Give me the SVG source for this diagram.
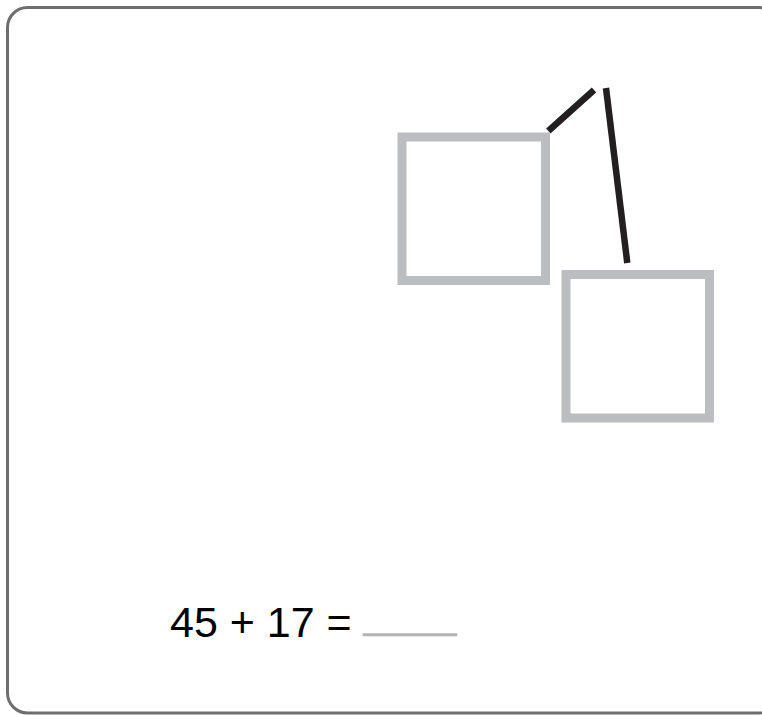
<svg xmlns="http://www.w3.org/2000/svg" width="762" height="715" viewBox="0 0 762 715">
<style>
.frame{fill:#fff;stroke:#6d6e70;stroke-width:3}
.box{fill:none;stroke:#bcbdc0;stroke-width:9}
.link{stroke:#231f20;stroke-width:6.5;fill:none}
.eq{font-family:"Liberation Sans",Arial,sans-serif;font-size:43px;fill:#000}
.blank{stroke:#b3b3b3;stroke-width:3}
</style>
<rect width="762" height="715" fill="#fff"/>
<rect class="frame" x="7.5" y="7.5" width="772" height="705.5" rx="20" ry="20"/>
<g id="connectors">
<line class="link" x1="548.3" y1="131" x2="594" y2="90"/>
<line class="link" x1="606" y1="88" x2="627.3" y2="263"/>
</g>
<g id="box1"><rect class="box" x="402" y="137" width="143.5" height="143.5"/></g>
<g id="box2"><rect class="box" x="566" y="274.5" width="143.5" height="143.5"/></g>
<g id="equation">
<text class="eq" x="170" y="636.5">45 + 17 =</text>
<line class="blank" x1="362.7" y1="634.7" x2="457.3" y2="634.7"/>
</g>
</svg>
